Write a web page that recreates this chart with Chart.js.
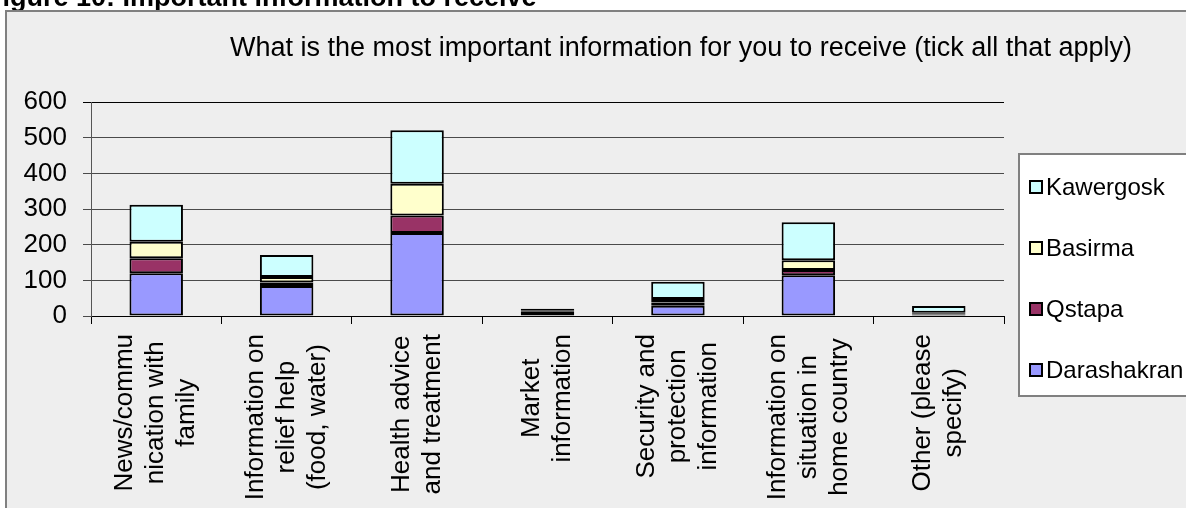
<!DOCTYPE html>
<html>
<head>
<meta charset="utf-8">
<script src="https://cdn.jsdelivr.net/npm/chart.js@4.4.1/dist/chart.umd.min.js"></script>
<style>
  html, body { margin: 0; padding: 0; background: #ffffff; }
  canvas { display: block; }
</style>
</head>
<body>
<canvas id="chart" width="1186" height="508"></canvas>
<script>
// Survey answers per camp, stacked per information type
const categories = [
  ["News/commu", "nication with", "family"],
  ["Information on", "relief help", "(food, water)"],
  ["Health advice", "and treatment"],
  ["Market", "information"],
  ["Security and", "protection", "information"],
  ["Information on", "situation in", "home country"],
  ["Other (please", "specify)"]
];
const darashakran = [120, 84, 233, 12, 29, 114, 4];
const qstapa      = [42, 10, 49, 2, 9, 15, 2];
const basirma     = [46, 15, 89, 2, 10, 27, 3];
const kawergosk   = [104, 62, 150, 4, 48, 107, 19];
const yTicks = [0, 100, 200, 300, 400, 500, 600];

const chartTitle = "What is the most important information for you to receive (tick all that apply)";
const figureCaption = "Figure 10: Important information to receive";

const FONT = "'Liberation Sans', Arial, sans-serif";

// Frame, title, custom category labels and legend
const decorations = {
  id: 'decorations',
  beforeDraw(chart) {
    const ctx = chart.ctx;
    ctx.save();
    ctx.fillStyle = '#ffffff';
    ctx.fillRect(0, 0, chart.width, chart.height);
    // caption above the frame (mostly cut off)
    ctx.fillStyle = '#000';
    ctx.font = 'bold 27px ' + FONT;
    ctx.textBaseline = 'alphabetic';
    ctx.textAlign = 'left';
    ctx.fillText(figureCaption, -14, 6);
    // chart frame
    ctx.fillStyle = '#eeeeee';
    ctx.fillRect(6, 11, chart.width + 20, chart.height + 20);
    ctx.strokeStyle = '#808080';
    ctx.lineWidth = 2;
    ctx.strokeRect(6, 11, chart.width + 20, chart.height + 20);
    // title
    ctx.fillStyle = '#000';
    ctx.font = '27px ' + FONT;
    ctx.textAlign = 'center';
    ctx.textBaseline = 'middle';
    ctx.fillText(chartTitle, 681, 49);
    ctx.restore();
  },
  afterDraw(chart) {
    const ctx = chart.ctx;
    const xs = chart.scales.x;
    ctx.save();
    ctx.fillStyle = '#000';
    ctx.font = '26px ' + FONT;
    ctx.textBaseline = 'middle';
    ctx.textAlign = 'center';
    const lineH = 31;
    const top = xs.top + 18;
    chart.data.labels.forEach((lines, i) => {
      const x = xs.getPixelForValue(i);
      const maxW = Math.max(...lines.map(l => ctx.measureText(l).width));
      ctx.save();
      ctx.translate(x, top);
      ctx.rotate(-Math.PI / 2);
      lines.forEach((l, j) => {
        ctx.fillText(l, -maxW / 2, (j - (lines.length - 1) / 2) * lineH);
      });
      ctx.restore();
    });

    // legend box
    const lx = 1019, ly = 154;
    ctx.fillStyle = '#ffffff';
    ctx.fillRect(lx, ly, 200, 242);
    ctx.strokeStyle = '#808080';
    ctx.lineWidth = 2;
    ctx.strokeRect(lx, ly, 200, 242);
    const ds = chart.data.datasets.slice().reverse();
    ctx.font = '24px ' + FONT;
    ctx.textAlign = 'left';
    ds.forEach((d, k) => {
      const cy = 187 + k * 61;
      ctx.fillStyle = d.backgroundColor;
      ctx.fillRect(1030, cy - 6, 12, 12);
      ctx.strokeStyle = '#000';
      ctx.lineWidth = 2;
      ctx.strokeRect(1030, cy - 6, 12, 12);
      ctx.fillStyle = '#000';
      ctx.fillText(d.label, 1046, cy + 1);
    });
    ctx.restore();
  }
};

const mk = (label, data, color) => ({
  label, data,
  backgroundColor: color,
  borderColor: '#000000',
  borderWidth: 2,
  borderSkipped: false,
  barPercentage: 0.41,
  categoryPercentage: 1.0
});

new Chart(document.getElementById('chart'), {
  type: 'bar',
  data: {
    labels: categories,
    datasets: [
      mk('Darashakran', darashakran, '#9999ff'),
      mk('Qstapa', qstapa, '#993366'),
      mk('Basirma', basirma, '#ffffcc'),
      mk('Kawergosk', kawergosk, '#ccffff')
    ]
  },
  options: {
    responsive: false,
    devicePixelRatio: 1,
    animation: false,
    layout: { padding: { top: 102, right: 182, bottom: 0, left: 0 } },
    plugins: {
      legend: { display: false },
      title: { display: false },
      tooltip: { enabled: false }
    },
    scales: {
      x: {
        stacked: true,
        grid: { display: true, drawOnChartArea: false, drawTicks: true, tickLength: 8, color: '#000' },
        border: { display: true, color: '#000', width: 1 },
        ticks: { display: false },
        afterFit(scale) { scale.height = 192; }
      },
      y: {
        stacked: true,
        min: 0,
        max: 600,
        afterBuildTicks(scale) { scale.ticks = yTicks.map(v => ({ value: v })); },
        grid: {
          color: (c) => (c.tick && c.tick.value === 600) ? '#000' : '#4a4a4a',
          lineWidth: 1,
          tickLength: 8
        },
        border: { display: true, color: '#555', width: 1 },
        ticks: {
          color: '#000',
          font: { family: FONT, size: 26 },
          padding: 16
        },
        afterFit(scale) { scale.width = 91; }
      }
    }
  },
  plugins: [decorations]
});
</script>
</body>
</html>
